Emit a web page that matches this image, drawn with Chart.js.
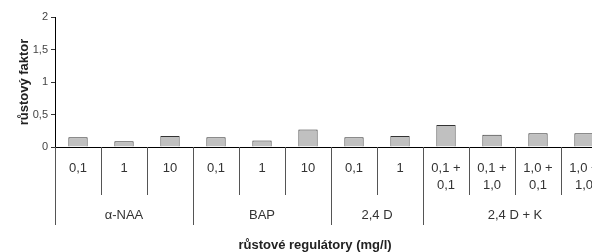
<!DOCTYPE html>
<html>
<head>
<meta charset="utf-8">
<script src="https://cdn.jsdelivr.net/npm/chart.js@4.4.1/dist/chart.umd.min.js"></script>
<style>
  body { margin: 0; overflow: hidden; background: #fff; }
  #wrap { width: 630px; height: 252px; }
</style>
</head>
<body>
<div id="wrap"><canvas id="growthChart"></canvas></div>
<script>
const categories = [
  ['0,1'], ['1'], ['10'],
  ['0,1'], ['1'], ['10'],
  ['0,1'], ['1'],
  ['0,1 +', '0,1'], ['0,1 +', '1,0'], ['1,0 +', '0,1'], ['1,0 +', '1,0']
];
const groups = ['α-NAA', 'BAP', '2,4 D', '2,4 D + K'];
const groupSizes = [3, 3, 2, 4];
const growthFactor = [0.15, 0.09, 0.17, 0.15, 0.10, 0.27, 0.15, 0.17, 0.34, 0.19, 0.21, 0.21];
const yTicks = [0, 0.5, 1, 1.5, 2];

const labelFont = '13px "Liberation Sans", Arial, sans-serif';
const titleFont = 'bold 13px "Liberation Sans", Arial, sans-serif';

// multi-level category axis drawn under the chart area
const groupAxis = {
  id: 'groupAxis',
  afterDraw(chart) {
    const ctx = chart.ctx;
    const x = chart.scales.x;
    const top = chart.chartArea.bottom;
    const w = (x.right - x.left) / categories.length;
    const bounds = [0];
    groupSizes.forEach(s => bounds.push(bounds[bounds.length - 1] + s));

    ctx.save();
    ctx.strokeStyle = '#555';
    ctx.lineWidth = 1;
    for (let i = 0; i <= categories.length; i++) {
      const bx = Math.round(x.left + i * w) + 0.5;
      const len = bounds.includes(i) ? 78 : 48;
      ctx.beginPath();
      ctx.moveTo(bx, top);
      ctx.lineTo(bx, top + len);
      ctx.stroke();
    }

    ctx.fillStyle = '#333';
    ctx.font = labelFont;
    ctx.textAlign = 'center';
    ctx.textBaseline = 'middle';
    categories.forEach((lines, i) => {
      const cx = x.getPixelForValue(i);
      lines.forEach((t, j) => ctx.fillText(t, cx, top + 21 + j * 17));
    });
    groups.forEach((g, k) => {
      const cx = x.left + (bounds[k] + bounds[k + 1]) / 2 * w;
      ctx.fillText(g, cx, top + 68);
    });

    ctx.fillStyle = '#222';
    ctx.font = titleFont;
    ctx.fillText('růstové regulátory (mg/l)', chart.width / 2, top + 98);
    ctx.restore();
  }
};

new Chart(document.getElementById('growthChart'), {
  type: 'bar',
  data: {
    labels: categories,
    datasets: [{
      data: growthFactor,
      backgroundColor: '#c0c0c0',
      borderColor: '#333',
      borderWidth: 1,
      barPercentage: 0.42,
      categoryPercentage: 1
    }]
  },
  options: {
    responsive: true,
    maintainAspectRatio: false,
    animation: false,
    layout: { padding: { top: 17, right: 23, left: 0, bottom: 0 } },
    plugins: { legend: { display: false }, tooltip: { enabled: false } },
    scales: {
      x: {
        ticks: { display: false },
        grid: { display: false },
        border: { display: true, color: '#000', width: 1 },
        afterFit(scale) { scale.height = 105; }
      },
      y: {
        min: 0,
        max: 2,
        afterBuildTicks(scale) { scale.ticks = yTicks.map(v => ({ value: v })); },
        afterFit(scale) { scale.width = 55; },
        ticks: {
          color: '#444',
          font: { family: '"Liberation Sans", Arial, sans-serif', size: 11 },
          padding: 3,
          callback: v => String(v).replace('.', ',')
        },
        grid: { drawOnChartArea: false, tickLength: 4, color: '#333' },
        border: { display: true, color: '#000', width: 1 },
        title: {
          display: true,
          text: 'růstový faktor',
          color: '#222',
          font: { family: '"Liberation Sans", Arial, sans-serif', size: 13, weight: 'bold' },
          padding: { top: 17, bottom: 0 }
        }
      }
    }
  },
  plugins: [groupAxis]
});
</script>
</body>
</html>
